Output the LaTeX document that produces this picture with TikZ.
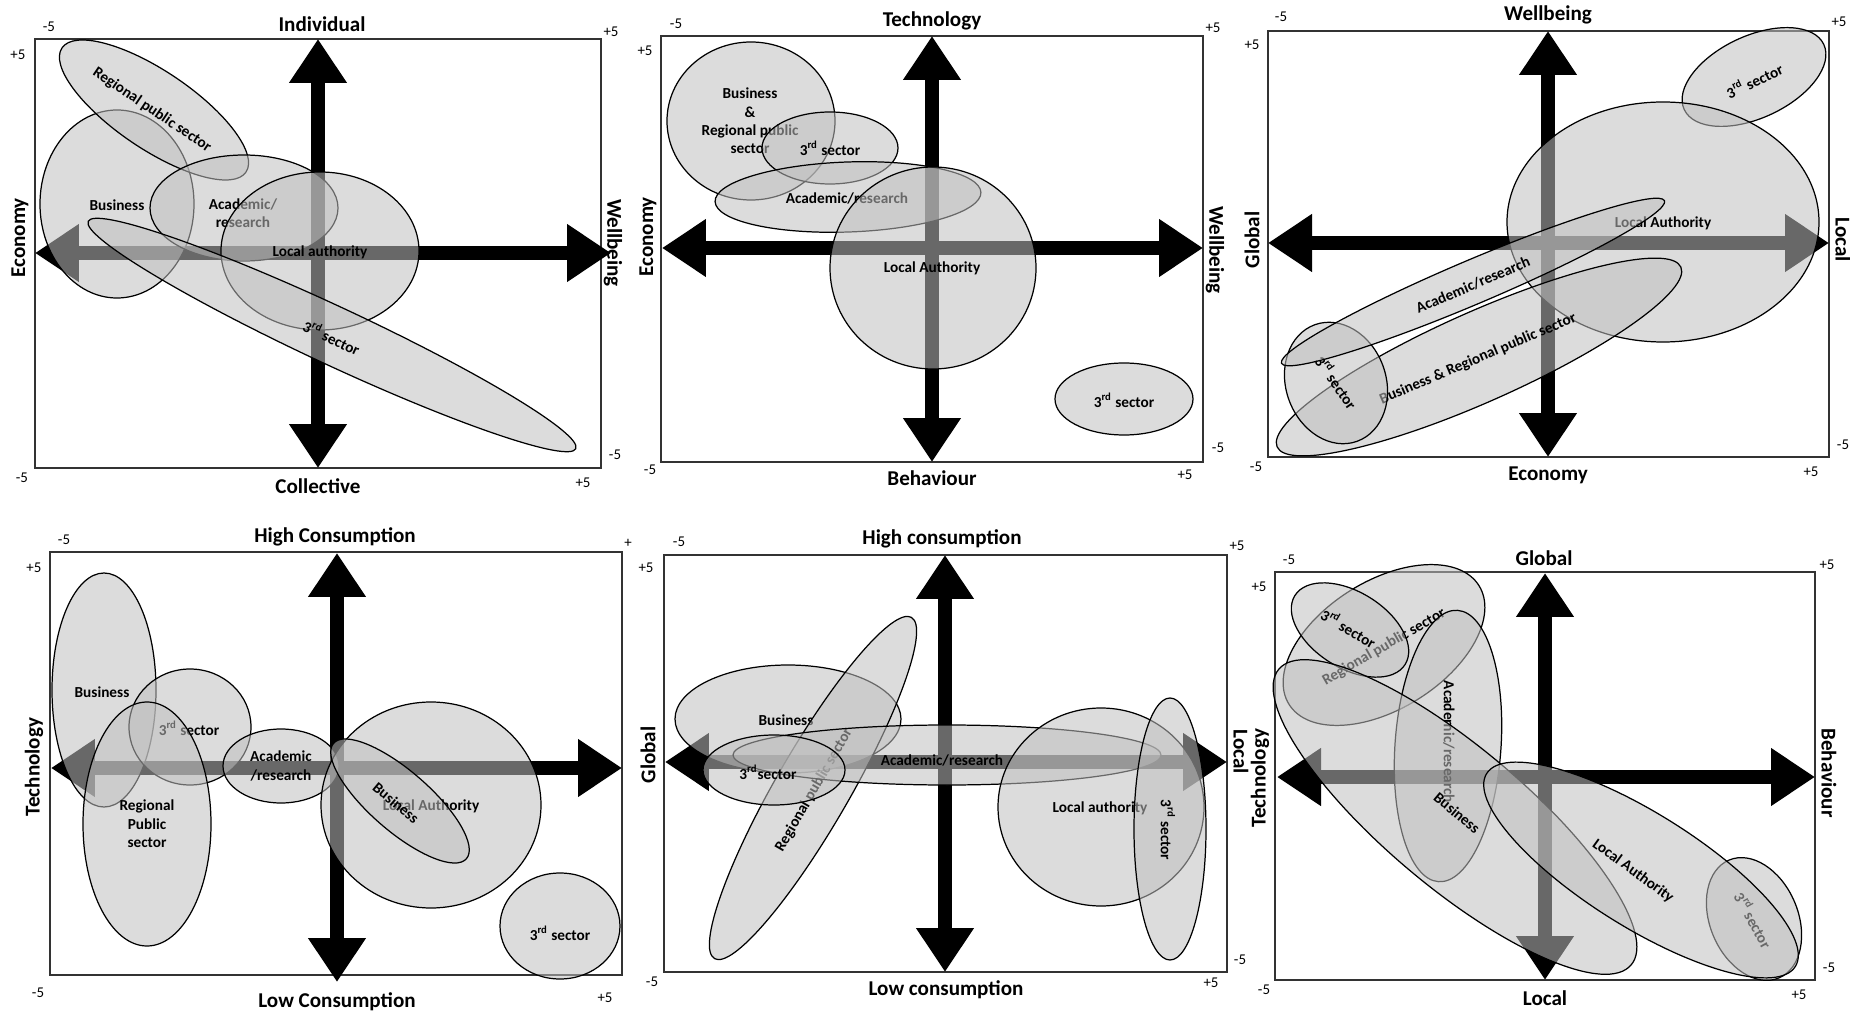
\documentclass[tikz,border=0pt]{standalone}
\usepackage{fontspec}
\setmainfont{Carlito}
\usetikzlibrary{arrows.meta}
\begin{document}
\begin{tikzpicture}[x=0.02cm, y=-0.02cm,
    >={Triangle[length=0.88cm, width=1.1cm]},
    frame/.style={draw=black!80, line width=0.9pt},
    axis/.style={line width=0.28cm, <->},
    blob/.style={draw=black, line width=0.7pt, fill=black!25, fill opacity=0.55},
    lbl/.style={font=\bfseries\fontsize{8.7}{10.5}\selectfont, align=center, inner sep=0pt},
    axlbl/.style={font=\bfseries\fontsize{12}{14}\selectfont, inner sep=0pt},
    num/.style={font=\fontsize{8.5}{9}\selectfont, inner sep=0pt}]
  \useasboundingbox (0,0) rectangle (1850,1013);

  % panel 1
  \draw[frame] (35,39) rectangle (601,468);
  \coordinate (a1n) at (318,39);  \coordinate (a1s) at (318,468);
  \coordinate (a1w) at (35,253);  \coordinate (a1e) at (611,253);
  \draw[axis] (a1n) -- (a1s);
  \draw[axis] (a1w) -- (a1e);
  \node[axlbl] (p1n) at (322,24) {Individual};
  \node[axlbl] (p1s) at (318,486) {Collective};
  \node[axlbl, rotate=90] (p1w) at (20,238) {Economy};
  \node[axlbl, rotate=-90] (p1e) at (613,243) {Wellbeing};
  \node[num] (p1t1) at (49,27) {-5};
  \node[num] (p1t2) at (18,55) {+5};
  \node[num] (p1t3) at (611,32) {+5};
  \node[num] (p1t4) at (615,455) {-5};
  \node[num] (p1t5) at (22,478) {-5};
  \node[num] (p1t6) at (583,483) {+5};
  \draw[blob] (117,204) ellipse (77 and 94);
  \node[lbl] (p1bus) at (117,205) {Business};
  \draw[blob, rotate around={-34:(154,110)}] (154,110) ellipse (111 and 39);
  \node[lbl, rotate=-34] (p1reg) at (152,110) {Regional public sector};
  \draw[blob] (244,208) ellipse (94 and 53);
  \node[lbl] (p1aca) at (243,213) {Academic/\\research};
  \draw[blob] (320,251) ellipse (99 and 79);
  \node[lbl] (p1loc) at (320,252) {Local authority};
  \draw[blob, rotate around={-25:(332,335)}] (332,335) ellipse (269 and 29);
  \node[lbl, rotate=-25] (p1thi) at (332,337) {3\textsuperscript{rd} sector};

  % panel 2
  \draw[frame] (661,36) rectangle (1203,462);
  \coordinate (a2n) at (932,36);  \coordinate (a2s) at (932,462);
  \coordinate (a2w) at (662,248); \coordinate (a2e) at (1203,248);
  \draw[axis] (a2n) -- (a2s);
  \draw[axis] (a2w) -- (a2e);
  \node[axlbl] (p2n) at (932,21) {Technology};
  \node[axlbl] (p2s) at (932,478) {Behaviour};
  \node[axlbl, rotate=90] (p2w) at (648,237) {Economy};
  \node[axlbl, rotate=-90] (p2e) at (1215,250) {Wellbeing};
  \node[num] (p2t1) at (676,24) {-5};
  \node[num] (p2t2) at (645,51) {+5};
  \node[num] (p2t3) at (1213,28) {+5};
  \node[num] (p2t4) at (1218,448) {-5};
  \node[num] (p2t5) at (650,470) {-5};
  \node[num] (p2t6) at (1185,475) {+5};
  \draw[blob] (751,121) ellipse (84 and 79);
  \node[lbl] (p2bus) at (750,121) {Business\\\&\\Regional public\\sector};
  \draw[blob] (830,148) ellipse (68 and 36);
  \node[lbl] (p2thi) at (830,148) {3\textsuperscript{rd} sector};
  \draw[blob, rotate around={2:(848,197)}] (848,197) ellipse (133 and 35);
  \node[lbl] (p2aca) at (847,198) {Academic/research};
  \draw[blob] (933,268) ellipse (103 and 101);
  \node[lbl] (p2loc) at (932,268) {Local Authority};
  \draw[blob] (1124,399) ellipse (69 and 36);
  \node[lbl] (p2thb) at (1124,400) {3\textsuperscript{rd} sector};

  % panel 3
  \draw[frame] (1268,31) rectangle (1829,457);
  \coordinate (a3n) at (1548,31);  \coordinate (a3s) at (1548,457);
  \coordinate (a3w) at (1268,243); \coordinate (a3e) at (1829,243);
  \draw[axis] (a3n) -- (a3s);
  \draw[axis] (a3w) -- (a3e);
  \node[axlbl] (p3n) at (1548,15) {Wellbeing};
  \node[axlbl] (p3s) at (1548,475) {Economy};
  \node[axlbl, rotate=90] (p3w) at (1252,240) {Global};
  \node[axlbl, rotate=-90] (p3e) at (1843,240) {Local};
  \node[num] (p3t1) at (1281,17) {-5};
  \node[num] (p3t2) at (1252,45) {+5};
  \node[num] (p3t3) at (1839,22) {+5};
  \node[num] (p3t4) at (1843,445) {-5};
  \node[num] (p3t5) at (1256,467) {-5};
  \node[num] (p3t6) at (1811,472) {+5};
  \draw[blob, rotate around={25:(1754,77)}] (1754,77) ellipse (77 and 41);
  \node[lbl, rotate=25] (p3tht) at (1754,80) {3\textsuperscript{rd} sector};
  \draw[blob] (1663,222) ellipse (156 and 120);
  \node[lbl] (p3loc) at (1663,223) {Local Authority};
  \draw[blob, rotate around={24:(1479,357)}] (1479,357) ellipse (221 and 45);
  \node[lbl, rotate=23] (p3bus) at (1478,359) {Business \& Regional public sector};
  \draw[blob, rotate around={-70:(1336,383)}] (1336,383) ellipse (62 and 50);
  \node[lbl, rotate=-55] (p3thb) at (1337,382) {3\textsuperscript{rd} sector};
  \draw[blob, rotate around={23:(1473,282)}] (1473,282) ellipse (208 and 22);
  \node[lbl, rotate=23] (p3aca) at (1473,285) {Academic/research};

  % panel 4
  \draw[frame] (50,552) rectangle (622,975);
  \coordinate (a4n) at (337,553); \coordinate (a4s) at (337,982);
  \coordinate (a4w) at (51,768);  \coordinate (a4e) at (622,768);
  \draw[axis] (a4n) -- (a4s);
  \draw[axis] (a4w) -- (a4e);
  \node[axlbl] (p4n) at (335,537) {High Consumption};
  \node[axlbl] (p4s) at (337,1002) {Low Consumption};
  \node[axlbl, rotate=90] (p4w) at (34,767) {Technology};
  \node[num] (p4t1) at (64,540) {-5};
  \node[num] (p4t2) at (34,568) {+5};
  \node[num] (p4t3) at (628,543) {+};
  \node[num] (p4t5) at (38,993) {-5};
  \node[num] (p4t6) at (605,998) {+5};
  \draw[blob] (104,690) ellipse (52 and 117);
  \node[lbl] (p4bus) at (102,692) {Business};
  \draw[blob] (190,727) ellipse (61 and 58);
  \node[lbl] (p4thi) at (189,728) {3\textsuperscript{rd} sector};
  \draw[blob] (147,824) ellipse (64 and 122);
  \node[lbl] (p4reg) at (147,824) {Regional\\Public\\sector};
  \draw[blob] (281,766) ellipse (58 and 37);
  \node[lbl] (p4aca) at (281,766) {Academic\\/research};
  \draw[blob] (431,805) ellipse (110 and 103);
  \node[lbl] (p4loc) at (431,806) {Local Authority};
  \draw[blob, rotate around={-41:(400,801)}] (400,801) ellipse (88 and 30);
  \node[lbl, rotate=-40] (p4bub) at (396,803) {Business};
  \draw[blob] (560,926) ellipse (60 and 53);
  \node[lbl] (p4thb) at (560,933) {3\textsuperscript{rd} sector};

  % panel 5
  \draw[frame] (664,555) rectangle (1227,972);
  \coordinate (a5n) at (945,555); \coordinate (a5s) at (945,972);
  \coordinate (a5w) at (665,762); \coordinate (a5e) at (1227,762);
  \draw[axis] (a5n) -- (a5s);
  \draw[axis] (a5w) -- (a5e);
  \node[axlbl] (p5n) at (942,539) {High consumption};
  \node[axlbl] (p5s) at (946,990) {Low consumption};
  \node[axlbl, rotate=90] (p5w) at (648,755) {Global};
  \node[axlbl, rotate=-90] (p5e) at (1241,752) {Local};
  \node[num] (p5t1) at (679,542) {-5};
  \node[num] (p5t2) at (646,568) {+5};
  \node[num] (p5t3) at (1237,546) {+5};
  \node[num] (p5t4) at (1240,960) {-5};
  \node[num] (p5t5) at (652,982) {-5};
  \node[num] (p5t6) at (1211,983) {+5};
  \draw[blob] (788,719) ellipse (113 and 54);
  \node[lbl] (p5bus) at (786,720) {Business};
  \draw[blob, rotate around={60:(813,788)}] (813,788) ellipse (197 and 37);
  \node[lbl, rotate=60] (p5reg) at (814,790) {Regional public sector};
  \draw[blob] (947,755) ellipse (214 and 30);
  \node[lbl] (p5aca) at (942,760) {Academic/research};
  \draw[blob] (774,770) ellipse (71 and 35);
  \node[lbl] (p5thi) at (768,772) {3\textsuperscript{rd}sector};
  \draw[blob] (1101,807) ellipse (103 and 99);
  \node[lbl] (p5loc) at (1100,808) {Local authority};
  \draw[blob] (1170,829) ellipse (36 and 131);
  \node[lbl, rotate=-90] (p5thb) at (1168,830) {3\textsuperscript{rd} sector};

  % panel 6
  \draw[frame] (1275,572) rectangle (1815,980);
  \coordinate (a6n) at (1545,573); \coordinate (a6s) at (1545,980);
  \coordinate (a6w) at (1277,777); \coordinate (a6e) at (1815,777);
  \draw[axis] (a6n) -- (a6s);
  \draw[axis] (a6w) -- (a6e);
  \node[axlbl] (p6n) at (1544,558) {Global};
  \node[axlbl] (p6s) at (1545,998) {Local};
  \node[axlbl, rotate=90] (p6w) at (1260,778) {Technology};
  \node[axlbl, rotate=-90] (p6e) at (1829,773) {Behaviour};
  \node[num] (p6t1) at (1289,560) {-5};
  \node[num] (p6t2) at (1259,587) {+5};
  \node[num] (p6t3) at (1827,565) {+5};
  \node[num] (p6t4) at (1829,968) {-5};
  \node[num] (p6t5) at (1264,990) {-5};
  \node[num] (p6t6) at (1799,995) {+5};
  \draw[blob, rotate around={32:(1384,645)}] (1384,645) ellipse (112 and 64);
  \node[lbl, rotate=30] (p6reg) at (1384,647) {Regional public sector};
  \draw[blob, rotate around={-32:(1350,630)}] (1350,630) ellipse (65 and 38);
  \node[lbl, rotate=-30] (p6thi) at (1349,628) {3\textsuperscript{rd} sector};
  \draw[blob, rotate around={-4:(1448,746)}] (1448,746) ellipse (53 and 136);
  \node[lbl, rotate=-90] (p6aca) at (1449,742) {Academic/research};
  \draw[blob, rotate around={-40:(1455,817)}] (1455,817) ellipse (230 and 70);
  \node[lbl, rotate=-40] (p6bus) at (1457,813) {Business};
  \draw[blob, rotate around={-67:(1754,919)}] (1754,919) ellipse (64 and 44);
  \node[lbl, rotate=-61] (p6thb) at (1754,920) {3\textsuperscript{rd} sector};
  \draw[blob, rotate around={-32:(1641,870)}] (1641,870) ellipse (182 and 57);
  \node[lbl, rotate=-36] (p6loc) at (1633,871) {Local Authority};
\end{tikzpicture}
\end{document}
